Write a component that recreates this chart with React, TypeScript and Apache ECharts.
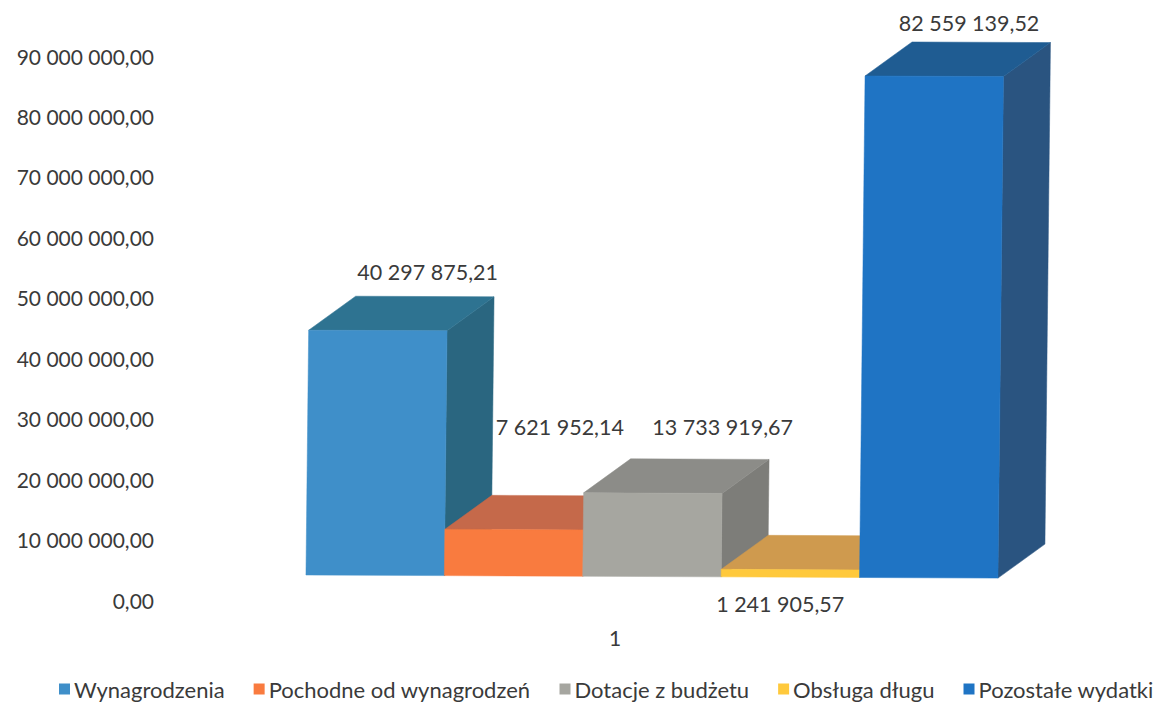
import React, { useEffect, useRef } from "react";
import * as echarts from "echarts";

const categories = ["1"];
const seriesNames = ["Wynagrodzenia", "Pochodne od wynagrodzeń", "Dotacje z budżetu", "Obsługa długu", "Pozostałe wydatki"];
const seriesValues = [40297875.21, 7621952.14, 13733919.67, 1241905.57, 82559139.52];
const frontColors = ["#3F8FC9", "#F97B3F", "#A6A6A0", "#FFC93C", "#1F74C4"];
const topColors = ["#2E7391", "#C5694A", "#8C8C88", "#CF9A4E", "#1F5C92"];
const sideColors = ["#2A6680", "#A85A3E", "#7D7D79", "#AD8242", "#2A5480"];
const labelDx = [119, 115, 139, 59, 104];
const labelDy = [-58, -102, -66, 35, -53];

const font = "Lato";
const textColor = "#3A3A3A";
const fmt = (v: number) => {
  const [a, b] = v.toFixed(2).split(".");
  return a.replace(/\B(?=(\d{3})+(?!\d))/g, " ") + "," + b;
};

const depthX = 47;
const depthY = -34;
const baseLift = -25;
const barScale = 1.005;
const barFraction = 0.1555;
const startOffset = -2.233;
const skewX = 0.011;
const skewY = 0.0045;

function renderBar(params: any, api: any) {
  const i = params.seriesIndex;
  const value = api.value(1);
  const [cx, zero] = api.coord([0, 0]);
  const [, top] = api.coord([0, value]);
  const w = api.size([1, 0])[0] * barFraction;
  const x0 = cx + (i + startOffset) * w;
  const origin = cx + startOffset * w;
  const base = zero + baseLift;
  const h = (zero - top) * barScale;
  const p = (x: number, y: number, dx = 0, dy = 0) => [
    x + (base - y) * skewX + dx,
    y + (x - origin) * skewY + dy,
  ];
  const fl = x0, fr = x0 + w, ft = base - h;
  const poly = (points: number[][], fill: string) => ({
    type: "polygon",
    shape: { points },
    style: { fill, stroke: fill, lineWidth: 0.5 },
  });
  const lp = p(fl, ft);
  return {
    type: "group",
    children: [
      poly([p(fr, base), p(fr, ft), p(fr, ft, depthX, depthY), p(fr, base, depthX, depthY)], sideColors[i]),
      poly([p(fl, ft), p(fr, ft), p(fr, ft, depthX, depthY), p(fl, ft, depthX, depthY)], topColors[i]),
      poly([p(fl, base), p(fr, base), p(fr, ft), p(fl, ft)], frontColors[i]),
      {
        type: "text",
        z2: 10,
        style: {
          text: fmt(value),
          x: lp[0] + labelDx[i],
          y: lp[1] + labelDy[i],
          align: "center",
          verticalAlign: "middle",
          font: `21.5px ${font}`,
          fill: textColor,
        },
      },
    ],
  };
}

export default function App() {
  const ref = useRef<HTMLDivElement>(null);
  useEffect(() => {
    const chart = echarts.init(ref.current!, undefined, { renderer: "svg" });
    chart.setOption({
      animation: false,
      backgroundColor: "#ffffff",
      textStyle: { fontFamily: font },
      grid: { left: 170, right: 97, top: 56, bottom: 103 },
      legend: {
        left: 54,
        top: 673,
        width: 1100,
        icon: "rect",
        itemWidth: 11,
        itemHeight: 11,
        itemGap: 29,
        textStyle: { fontSize: 22, color: textColor, fontFamily: font, padding: [0, 0, 0, -1] },
        data: seriesNames,
      },
      xAxis: {
        type: "category",
        data: categories,
        axisLine: { show: false },
        axisTick: { show: false },
        axisLabel: { fontSize: 21, color: textColor, margin: 27, fontFamily: font },
      },
      yAxis: {
        type: "value",
        min: 0,
        max: 90000000,
        interval: 10000000,
        axisLine: { show: false },
        axisTick: { show: false },
        splitLine: { show: false },
        axisLabel: { fontSize: 21, color: textColor, margin: 16, fontFamily: font, formatter: (v: number) => fmt(v) },
      },
      series: seriesNames.map((name, i) => ({
        name,
        type: "custom",
        coordinateSystem: "cartesian2d",
        clip: false,
        itemStyle: { color: frontColors[i] },
        encode: { x: 0, y: 1 },
        data: [[0, seriesValues[i]]],
        renderItem: renderBar,
      })),
    });
    return () => chart.dispose();
  }, []);
  return <div ref={ref} style={{ position: "fixed", left: 0, top: 0, width: 1157, height: 703 }} />;
}
